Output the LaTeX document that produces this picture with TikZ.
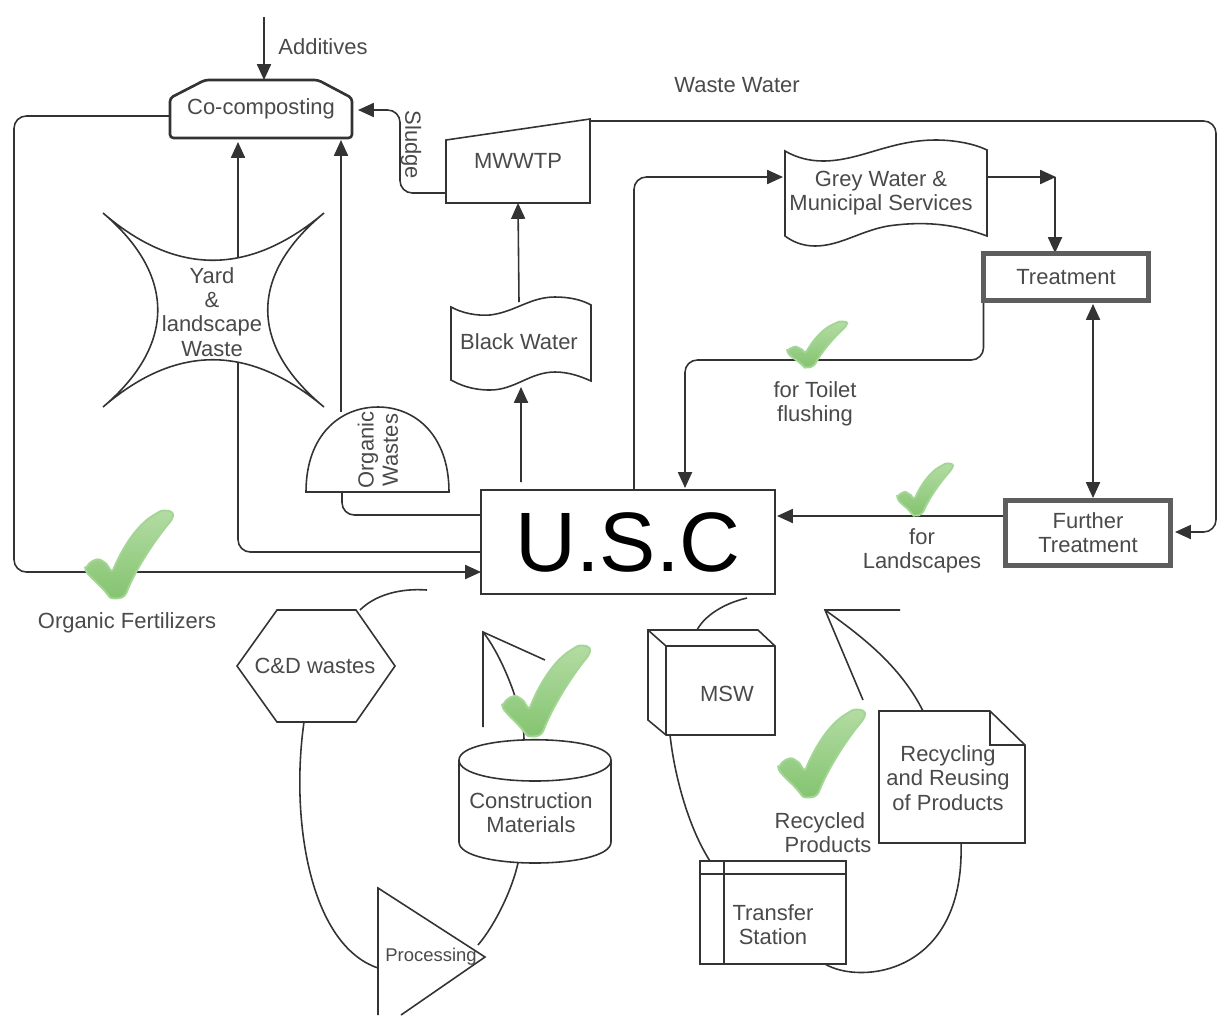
\documentclass[tikz,border=0pt]{standalone}
\usepackage{fontspec}
\setmainfont{Liberation Sans}
\usetikzlibrary{arrows.meta}
\pgfdeclarelayer{back}
\pgfsetlayers{back,main}
\definecolor{inkgrey}{HTML}{333333}
\definecolor{txtgrey}{HTML}{4A4A4A}
\definecolor{rimgrey}{HTML}{5E5E5E}
\definecolor{chkgreen}{HTML}{84C470}
\definecolor{chklight}{HTML}{B4DCA4}
\definecolor{chkedge}{HTML}{A3D694}

\begin{document}
\begin{tikzpicture}[
    x=0.02cm, y=-0.02cm,
    label/.style={text=txtgrey, font=\fontsize{12.5}{13.8}\selectfont, align=center, inner sep=0pt, outer sep=0pt},
    box/.style={label, draw=inkgrey, line width=0.9pt, fill=white},
    rimbox/.style={label, draw=rimgrey, line width=3pt, fill=white},
    outline/.style={draw=inkgrey, line width=0.9pt, fill=white},
    loose/.style={draw=inkgrey, line width=0.9pt},
    conn/.style={draw=inkgrey, line width=0.9pt, rounded corners=7pt},
    arrow/.style={conn, -{Triangle[length=9pt, width=8pt]}},
    both/.style={conn, {Triangle[length=9pt, width=8pt]}-{Triangle[length=9pt, width=8pt]}},
    chk/.pic={
        \path[draw=chkedge, line width=1.1pt, top color=chklight, bottom color=chkgreen, rounded corners=2pt]
            (0,.68) .. controls (.05,.58) and (.14,.54) .. (.21,.58)
            .. controls (.25,.61) and (.28,.66) .. (.31,.71)
            .. controls (.43,.42) and (.60,.16) .. (.82,.03)
            .. controls (.90,-.02) and (1.03,-.01) .. (1,.10)
            .. controls (.86,.26) and (.60,.62) .. (.46,.98)
            .. controls (.38,1.01) and (.30,1.01) .. (.26,.96)
            .. controls (.18,.86) and (.08,.78) .. (0,.68) -- cycle;
    }
]
    \useasboundingbox (0,0) rectangle (1219,1015);

    % outlines of the shapes that are not rectangles
    \draw[outline, line width=1.5pt, rounded corners=2pt] (170,138) -- (170,98) -- (205,80) -- (318,80) -- (352,98) -- (352,138) -- cycle;
    \draw[outline] (103,213) .. controls (176,276) and (249,276) .. (324,213)
        .. controls (249,275) and (249,345) .. (324,407)
        .. controls (249,344) and (176,344) .. (103,407)
        .. controls (176,345) and (176,275) .. (103,213) -- cycle;
    \draw[outline] (306,492) .. controls (306,435) and (340,407) .. (378,407)
        .. controls (415,407) and (449,435) .. (449,492) -- cycle;
    \draw[outline] (446,140) -- (590,119) -- (590,203) -- (446,203) -- cycle;
    \draw[outline] (451,307) .. controls (462,313) and (476,316) .. (490,315)
        .. controls (515,312) and (530,297) .. (555,297)
        .. controls (570,297) and (582,300) .. (591,305) -- (591,381)
        .. controls (580,376) and (568,372) .. (555,372)
        .. controls (530,372) and (515,390) .. (490,390)
        .. controls (472,390) and (460,385) .. (451,380) -- cycle;
    \draw[outline] (785,151) .. controls (797,158) and (810,161) .. (823,161)
        .. controls (860,161) and (890,140) .. (936,140)
        .. controls (955,140) and (975,144) .. (987,150) -- (987,236)
        .. controls (960,226) and (930,220) .. (888,226)
        .. controls (860,231) and (840,246) .. (815,246)
        .. controls (803,246) and (793,242) .. (785,236) -- cycle;
    \draw[outline] (277,610) -- (356,610) -- (395,666) -- (356,722) -- (277,722) -- (237,666) -- cycle;
    \draw[outline] (459,760) .. controls (459,733) and (611,733) .. (611,760) -- (611,842)
        .. controls (611,870) and (459,870) .. (459,842) -- cycle;
    \draw[loose] (459,760) .. controls (459,788) and (611,788) .. (611,760);
    \draw[outline] (378,1015) -- (378,888) -- (485,957) -- (401,1015);
    \draw[outline] (648,630) -- (758,630) -- (775,646) -- (775,735) -- (666,735) -- (648,720) -- cycle;
    \draw[loose] (648,630) -- (666,646) -- (775,646) (666,646) -- (666,735);
    \draw[outline] (700,861) rectangle (846,964);
    \draw[loose] (700,874) -- (846,874) (724,861) -- (724,964);
    \draw[outline] (879,711) -- (990,711) -- (1025,745) -- (1025,843) -- (879,843) -- cycle;
    \draw[loose] (990,711) -- (990,745) -- (1025,745);

    % nodes
    \node[label, minimum width=3.64cm, minimum height=1.16cm] (coco) at (261,109) {Co-composting};
    \node[label] (yard) at (212,312) {Yard\\\&\\landscape\\Waste};
    \node[label, rotate=90] (organic) at (378,450) {Organic\\Wastes};
    \node[label, minimum width=2.88cm, minimum height=1.68cm] (mwwtp) at (518,161) {MWWTP};
    \node[label, minimum width=2.8cm, minimum height=1.6cm] (black) at (519,342) {Black Water};
    \node[label, minimum width=4.04cm, minimum height=1.9cm] (grey) at (881,193) {Grey Water \&\\Municipal Services};
    \node[rimbox, minimum width=3.3cm, minimum height=0.94cm] (treat) at (1066,277) {Treatment};
    \node[rimbox, minimum width=3.3cm, minimum height=1.3cm] (further) at (1088,533) {Further\\Treatment};
    \node[box, text=black, font=\fontsize{48}{50}\selectfont, minimum width=5.88cm, minimum height=2.08cm] (usc) at (628,542) {U.S.C};
    \node[label, minimum width=3.16cm, minimum height=2.24cm] (chd) at (315,666) {C\&D wastes};
    \node[label] (cmat) at (531,813) {Construction\\Materials};
    \node[label, font=\fontsize{10.5}{12}\selectfont] (proc) at (431,957) {Processing};
    \node[label] (msw) at (727,694) {MSW};
    \node[label] (transfer) at (773,925) {Transfer\\Station};
    \node[label] (recyc) at (948,778) {Recycling\\and Reusing\\of Products};
    \node[label] (additives) at (323,47) {Additives};
    \node[label] (wastewater) at (737,85) {Waste Water};
    \node[label] (toilet) at (815,404) {for Toilet\\flushing};
    \node[label] (landscapes) at (922,551) {for\\Landscapes};
    \node[label] (fertilizers) at (127,623) {Organic Fertilizers};
    \node[label, align=left] (products) at (823,833) {Recycled\\\hspace*{5.7pt}Products};
    \node[label, rotate=-90] (sludge) at (411,145) {Sludge};

    % free ends
    \coordinate (addtop) at (264,17);
    \coordinate (chdend) at (427,590);
    \coordinate (matapex) at (483,632);
    \coordinate (matleg) at (483,727);
    \coordinate (matwing) at (545,660);
    \coordinate (mswend) at (747,598);
    \coordinate (recapex) at (825,610);
    \coordinate (recwing) at (900,610);
    \coordinate (recleg) at (863,700);
    \coordinate (joint) at (1056,177);

    \begin{pgfonlayer}{back}
        % flows round the centre
        \draw[arrow] (addtop) -- (addtop |- coco.north);
        \draw[arrow] ([yshift=-.14cm]coco.west) -- (14,116) -- (14,572) -- ([yshift=-.6cm]usc.west);
        \draw[arrow] ([yshift=-.2cm]usc.west) -- (238,552) -- (238,142);
        \draw[conn] ([yshift=.54cm]usc.west) -- (342,515) -- (342,492);
        \draw[arrow] (341,412) -- (341,140);
        \draw[arrow] ([yshift=-.64cm]mwwtp.west) -- (400,193) -- (400,110) -- (358,110);
        \draw[arrow] (black.north) -- (mwwtp.south);
        \draw[arrow] ([xshift=-2.14cm,yshift=.16cm]usc.north) -- (521,387);
        \draw[arrow] ([xshift=.12cm]usc.north) -- (634,177) -- (783,177);
        \draw[arrow] (987,177) -- (joint);
        \draw[arrow] (1055,177) -- (1055,253);
        \draw[arrow] (treat.south west) |- (685,360) -- (685,488);
        \draw[both] (1093,304) -- (1093,498);
        \draw[arrow] ([yshift=.34cm]further.west) -- (777,516);
        \draw[arrow] (590,121) -- (1216,121) -- (1216,532) -- (1175,532);
        % the loose curves at the bottom
        \draw[loose] (360,610) .. controls (375,595) and (400,588) .. (chdend);
        \draw[loose] ([xshift=-.22cm]chd.south) .. controls (290,820) and (310,945) .. (378,968);
        \draw[loose] (518,863) .. controls (512,890) and (495,925) .. (478,945);
        \draw[loose] (524,739) .. controls (524,715) and (505,660) .. (matapex);
        \draw[loose] (matleg) -- (matapex) -- (matwing);
        \draw[loose] (697,630) .. controls (705,615) and (725,603) .. (mswend);
        \draw[loose] (670,735) .. controls (675,780) and (690,830) .. (710,861);
        \draw[loose] (825,964) .. controls (860,985) and (965,975) .. (961,843);
        \draw[loose] (923,711) .. controls (900,665) and (860,635) .. (recapex);
        \draw[loose] (recwing) -- (recapex) -- (recleg);
    \end{pgfonlayer}

    % green ticks
    \pic[xscale=87, yscale=87] (chkfert) at (85,511) {chk};
    \pic[xscale=87, yscale=90] (chkmat) at (502,646) {chk};
    \pic[xscale=86, yscale=87] (chkprod) at (778,710) {chk};
    \pic[xscale=59, yscale=45] (chktoilet) at (787,322) {chk};
    \pic[xscale=55, yscale=51] (chkland) at (897,464) {chk};
\end{tikzpicture}
\end{document}
